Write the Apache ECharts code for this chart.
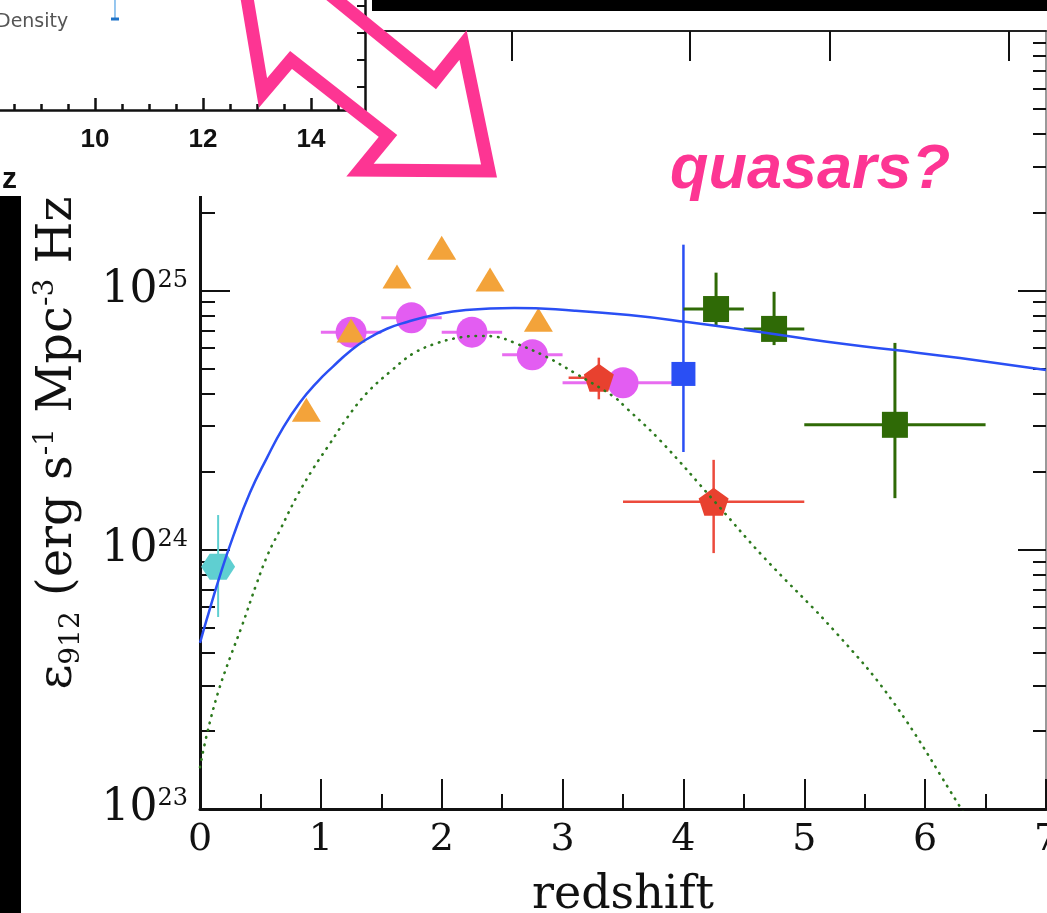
<!DOCTYPE html>
<html>
<head>
<meta charset="utf-8">
<script src="https://cdn.jsdelivr.net/npm/echarts@6/dist/echarts.min.js"></script>
<style>
  html, body { margin: 0; padding: 0; background: #ffffff; }
  #chart { width: 1047px; height: 913px; }
</style>
</head>
<body>
<div id="chart"></div>
<script>
// ---- axis ticks and labels ----
const xTickLabels = ['0', '1', '2', '3', '4', '5', '6', '7'];
const yDecades = [1e23, 1e24, 1e25, 1e26];
const yLabelDecades = [1e23, 1e24, 1e25];
const yMinorTicks = [
  2e23, 3e23, 4e23, 5e23, 6e23, 7e23, 8e23, 9e23,
  2e24, 3e24, 4e24, 5e24, 6e24, 7e24, 8e24, 9e24,
  2e25, 3e25, 4e25, 5e25, 6e25, 7e25, 8e25, 9e25
];
const topTicks = [2.58, 4.05, 5.21, 6.69];

// ---- emissivity at 912 A: measurements ----
// orange triangles
const triZ   = [0.88, 1.25, 1.63, 2.0, 2.4, 2.8];
const triEps = [3.46e24, 7.0e24, 1.13e25, 1.46e25, 1.10e25, 7.7e24];

// magenta circles (redshift bins)
const circZ   = [1.25, 1.75, 2.25, 2.75, 3.5];
const circZlo = [1.0, 1.5, 2.0, 2.5, 3.0];
const circZhi = [1.5, 2.0, 2.5, 3.0, 4.0];
const circEps = [6.9e24, 7.84e24, 6.9e24, 5.64e24, 4.4e24];

// red pentagons
const redZ     = [3.3, 4.25];
const redZlo   = [3.05, 3.5];
const redZhi   = [3.5, 5.0];
const redEps   = [4.6e24, 1.53e24];
const redEpsLo = [3.8e24, 9.7e23];
const redEpsHi = [5.5e24, 2.22e24];

// cyan local point
const cyanZ     = [0.15];
const cyanEps   = [8.6e23];
const cyanEpsLo = [5.5e23];
const cyanEpsHi = [1.36e24];

// blue square
const blueZ     = [4.0];
const blueEps   = [4.76e24];
const blueEpsLo = [2.38e24];
const blueEpsHi = [1.5e25];

// dark green squares
const greenZ     = [4.27, 4.75, 5.75];
const greenZlo   = [4.0, 4.5, 5.0];
const greenZhi   = [4.5, 5.0, 6.5];
const greenEps   = [8.47e24, 7.1e24, 3.03e24];
const greenEpsLo = [7.35e24, 6.15e24, 1.58e24];
const greenEpsHi = [1.17e25, 9.87e24, 6.27e24];

// ---- model curves ----
const totalZ = [0, 0.055, 0.165, 0.273, 0.414, 0.554, 0.687, 0.828, 0.968, 1.1, 1.241,
  1.382, 1.547, 1.713, 1.928, 2.2, 2.6, 3.1, 3.55, 4.03, 4.633, 5.188, 5.734, 6.288, 7.0];
const totalEps = [4.37e23, 5.37e23, 7.94e23, 1.12e24, 1.66e24, 2.26e24, 2.95e24, 3.70e24,
  4.42e24, 5.08e24, 5.82e24, 6.49e24, 7.11e24, 7.55e24, 8.02e24, 8.4e24, 8.55e24, 8.35e24,
  8.03e24, 7.55e24, 6.91e24, 6.33e24, 5.9e24, 5.48e24, 4.93e24];

const qsoZ = [0, 0.058, 0.15, 0.25, 0.345, 0.469, 0.565, 0.662, 0.8, 0.938, 1.076, 1.214,
  1.379, 1.572, 1.765, 1.958, 2.15, 2.32, 2.46, 2.59, 2.87, 3.1, 3.42, 3.53, 3.81, 4.26,
  4.66, 5.26, 5.74, 6.3, 6.5];
const qsoEps = [1.45e23, 1.95e23, 2.82e23, 3.85e23, 5.05e23, 7.41e23, 9.68e23, 1.19e24,
  1.6e24, 2.06e24, 2.57e24, 3.21e24, 4.01e24, 4.85e24, 5.71e24, 6.25e24, 6.58e24, 6.67e24,
  6.61e24, 6.31e24, 5.53e24, 4.8e24, 3.9e24, 3.51e24, 2.63e24, 1.53e24, 9.4e23, 4.8e23,
  2.57e23, 1.0e23, 7.1e22];

// ---- small panel (upper left) ----
const insetXTicksMajor = [8, 10, 12, 14];
const insetXTicksMinor = [8.5, 9, 9.5, 10.5, 11, 11.5, 12.5, 13, 13.5, 14.5];
const insetXLabels = [10, 12, 14];
const insetYTicks = [0, 1, 2, 3];
const insetPointZ = [10.37];
const insetPointLo = [2.5];
const insetPointHi = [3.6];

const SERIF = '"DejaVu Serif", "Liberation Serif", serif';
const SANS = '"Liberation Sans", Arial, sans-serif';
const PINK = '#fd3593';

// error bar item: [x, y, xlo, xhi, ylo, yhi]
function errItems(z, eps, zlo, zhi, elo, ehi) {
  return z.map((v, i) => [v, eps[i],
    zlo ? zlo[i] : v, zhi ? zhi[i] : v,
    elo ? elo[i] : eps[i], ehi ? ehi[i] : eps[i]]);
}
function errorBars(color, width) {
  return function (params, api) {
    const y = api.value(1), x = api.value(0);
    const a = api.coord([api.value(2), y]);
    const b = api.coord([api.value(3), y]);
    const c = api.coord([x, api.value(4)]);
    const d = api.coord([x, api.value(5)]);
    const st = { stroke: color, lineWidth: width };
    return {
      type: 'group',
      children: [
        { type: 'line', shape: { x1: a[0], y1: a[1], x2: b[0], y2: b[1] }, style: st },
        { type: 'line', shape: { x1: c[0], y1: c[1], x2: d[0], y2: d[1] }, style: st }
      ]
    };
  };
}
function errSeries(name, items, color, width) {
  return {
    name: name, type: 'custom', xAxisIndex: 0, yAxisIndex: 0, z: 3,
    encode: { x: 0, y: 1 }, data: items, renderItem: errorBars(color, width), silent: true
  };
}
function pts(z, eps) { return z.map((v, i) => [v, eps[i]]); }
function marker(name, z, eps, symbol, size, color, zz) {
  return {
    name: name, type: 'scatter', xAxisIndex: 0, yAxisIndex: 0, z: zz,
    symbol: symbol, symbolSize: size, data: pts(z, eps),
    itemStyle: { color: color, opacity: 1 }, silent: true
  };
}

const PENTAGON = 'path://M0,-10 L9.5,-3.1 L5.9,8.1 L-5.9,8.1 L-9.5,-3.1 Z';
const HEXAGON = 'path://M-5,-8.7 L5,-8.7 L10,0 L5,8.7 L-5,8.7 L-10,0 Z';

const logAxisBase = {
  type: 'log', logBase: 10, min: 1e23, max: 1e26, gridIndex: 0,
  splitLine: { show: false }, minorTick: { show: false }
};

const option = {
  backgroundColor: '#ffffff',
  animation: false,
  grid: [
    { left: 200, top: 31, width: 846, height: 778, outerBoundsMode: 'none', containLabel: false },
    { left: -13, top: 0, width: 378, height: 110, outerBoundsMode: 'none', containLabel: false }
  ],
  xAxis: [
    {
      type: 'value', gridIndex: 0, position: 'bottom', min: 0, max: 7, interval: 1,
      axisLine: { onZero: false, lineStyle: { color: '#111', width: 3 } },
      axisTick: { inside: true, length: 30, lineStyle: { color: '#111', width: 2 } },
      minorTick: { show: true, splitNumber: 2, length: 15, lineStyle: { color: '#111', width: 2 } },
      splitLine: { show: false }, minorSplitLine: { show: false },
      axisLabel: {
        margin: 12, color: '#111', fontFamily: SERIF, fontSize: 38,
        formatter: v => xTickLabels[Math.round(v)]
      },
      name: 'redshift', nameLocation: 'middle', nameGap: 64, nameMoveOverlap: false,
      nameTextStyle: { fontFamily: SERIF, fontSize: 46, color: '#111' }
    },
    {
      type: 'value', gridIndex: 0, position: 'top', min: 0, max: 7,
      axisLine: { onZero: false, lineStyle: { color: '#222', width: 2 } },
      axisTick: { inside: true, length: 30, customValues: topTicks, lineStyle: { color: '#111', width: 2 } },
      axisLabel: { show: false }, splitLine: { show: false }
    },
    {
      type: 'value', gridIndex: 1, position: 'bottom', min: 8, max: 15, z: 20,
      axisLine: { onZero: false, lineStyle: { color: '#111', width: 2.5 } },
      axisTick: { inside: true, length: 12, customValues: insetXTicksMajor, lineStyle: { color: '#111', width: 2.5 } },
      axisLabel: {
        customValues: insetXLabels, margin: 17, color: '#111',
        fontFamily: SANS, fontWeight: 'bold', fontSize: 26
      },
      splitLine: { show: false }
    },
    {
      type: 'value', gridIndex: 1, position: 'bottom', min: 8, max: 15, z: 20,
      axisLine: { show: false, onZero: false },
      axisTick: { inside: true, length: 6, customValues: insetXTicksMinor, lineStyle: { color: '#111', width: 2.5 } },
      axisLabel: { show: false }, splitLine: { show: false }
    }
  ],
  yAxis: [
    Object.assign({}, logAxisBase, {
      position: 'left',
      axisLine: { onZero: false, lineStyle: { color: '#111', width: 3 } },
      axisTick: { inside: true, length: 30, customValues: yDecades, lineStyle: { color: '#111', width: 2 } },
      axisLabel: {
        customValues: yLabelDecades, margin: 12,
        formatter: v => '{b|10}{s|' + Math.round(Math.log10(v)) + '}',
        rich: {
          b: { fontFamily: SERIF, fontSize: 44, color: '#111', lineHeight: 44 },
          s: { fontFamily: SERIF, fontSize: 24, color: '#111', lineHeight: 26, verticalAlign: 'top' }
        }
      },
      name: '{t|\u03b5}{sub|912}{t| (erg s}{sup|-1}{t| Mpc}{sup|-3}{t| Hz}{sup|-1}{t|)}',
      nameLocation: 'middle', nameGap: 114, nameRotate: 90, nameMoveOverlap: false,
      nameTextStyle: {
        color: '#111',
        rich: {
          t: { fontFamily: SERIF, fontSize: 48, color: '#111', lineHeight: 54 },
          sub: { fontFamily: SERIF, fontSize: 28, color: '#111', lineHeight: 22, verticalAlign: 'bottom' },
          sup: { fontFamily: SERIF, fontSize: 28, color: '#111', lineHeight: 28, verticalAlign: 'top' }
        }
      }
    }),
    Object.assign({}, logAxisBase, {
      position: 'left',
      axisLine: { show: false, onZero: false },
      axisTick: { inside: true, length: 15, customValues: yMinorTicks, lineStyle: { color: '#111', width: 2 } },
      axisLabel: { show: false }
    }),
    Object.assign({}, logAxisBase, {
      position: 'right',
      axisLine: { onZero: false, lineStyle: { color: '#777', width: 1.5 } },
      axisTick: { inside: true, length: 28, customValues: yDecades, lineStyle: { color: '#111', width: 2 } },
      axisLabel: { show: false }
    }),
    Object.assign({}, logAxisBase, {
      position: 'right',
      axisLine: { show: false, onZero: false },
      axisTick: { inside: true, length: 13, customValues: yMinorTicks, lineStyle: { color: '#111', width: 2 } },
      axisLabel: { show: false }
    }),
    {
      type: 'value', gridIndex: 1, position: 'right', min: -0.85, max: 3.2, z: 20,
      axisLine: { onZero: false, lineStyle: { color: '#111', width: 2.5 } },
      axisTick: { inside: true, length: 8, customValues: insetYTicks, lineStyle: { color: '#111', width: 2 } },
      axisLabel: { show: false }, splitLine: { show: false }
    }
  ],
  series: [
    errSeries('bins err', errItems(circZ, circEps, circZlo, circZhi, null, null), '#e86cf0', 3),
    marker('bins', circZ, circEps, 'circle', 31, '#e35df2', 3),
    marker('triangles', triZ, triEps, 'triangle', [29, 24], '#f3a33a', 3),
    errSeries('red err', errItems(redZ, redEps, redZlo, redZhi, redEpsLo, redEpsHi), '#ec4a3c', 2.5),
    marker('red', redZ, redEps, PENTAGON, [30, 28], '#e8412f', 3),
    errSeries('cyan err', errItems(cyanZ, cyanEps, null, null, cyanEpsLo, cyanEpsHi), '#5fcfd1', 2),
    marker('cyan', cyanZ, cyanEps, HEXAGON, [34, 26], '#5fcfd1', 3),
    errSeries('blue err', errItems(blueZ, blueEps, null, null, blueEpsLo, blueEpsHi), '#2a4ff4', 2.5),
    marker('blue', blueZ, blueEps, 'rect', 24, '#2a4ff4', 3),
    errSeries('green err', errItems(greenZ, greenEps, greenZlo, greenZhi, greenEpsLo, greenEpsHi), '#2f6a06', 3),
    marker('green', greenZ, greenEps, 'rect', 26, '#2f6a06', 3),
    {
      name: 'total', type: 'line', xAxisIndex: 0, yAxisIndex: 0, z: 5,
      data: pts(totalZ, totalEps), smooth: 0.5, showSymbol: false, silent: true,
      lineStyle: { color: '#2a4ff4', width: 2.5 }
    },
    {
      name: 'quasars', type: 'line', xAxisIndex: 0, yAxisIndex: 0, z: 5,
      data: pts(qsoZ, qsoEps), smooth: 0.4, showSymbol: false, silent: true, clip: true,
      lineStyle: { color: '#2d7a1e', width: 2.6, type: [0.5, 7], cap: 'round' }
    },
    {
      name: 'density', type: 'custom', xAxisIndex: 2, yAxisIndex: 4, z: 25, silent: true,
      encode: { x: 0, y: 1 },
      data: insetPointZ.map((z, i) => [z, insetPointLo[i], insetPointHi[i]]),
      renderItem: function (params, api) {
        const lo = api.coord([api.value(0), api.value(1)]);
        const hi = api.coord([api.value(0), api.value(2)]);
        return {
          type: 'group',
          children: [
            { type: 'line', shape: { x1: lo[0], y1: lo[1], x2: hi[0], y2: hi[1] },
              style: { stroke: '#74b4ea', lineWidth: 1.5 } },
            { type: 'rect', shape: { x: lo[0] - 4, y: lo[1] - 1.5, width: 8, height: 3 },
              style: { fill: '#1f73c8' } }
          ]
        };
      }
    }
  ],
  graphic: {
    elements: [
      { type: 'rect', z: 10, silent: true, shape: { x: 0, y: 0, width: 370, height: 196 }, style: { fill: '#ffffff' } },
      { type: 'rect', z: 30, silent: true, shape: { x: 372, y: 0, width: 690, height: 11 }, style: { fill: '#000000' } },
      { type: 'rect', z: 30, silent: true, shape: { x: 0, y: 196, width: 21, height: 730 }, style: { fill: '#000000' } },
      { type: 'text', z: 25, silent: true, x: -4, y: 22,
        style: { text: 'Density', fontSize: 19, fontFamily: '"DejaVu Sans"', fill: '#555555',
                 textAlign: 'left', textVerticalAlign: 'middle', align: 'left', verticalAlign: 'middle' } },
      { type: 'text', z: 25, silent: true, x: 2, y: 180,
        style: { text: 'z', fontSize: 30, fontWeight: 'bold', fontFamily: '"Liberation Sans"', fill: '#111111',
                 textAlign: 'left', textVerticalAlign: 'middle', align: 'left', verticalAlign: 'middle' } },
      { type: 'polyline', z: 40, silent: true,
        shape: { points: [[244, -20], [263, 93], [291, 60], [388, 136], [360, 170], [489, 171], [463, 45], [435, 80], [312, -20]] },
        style: { stroke: PINK, lineWidth: 13, fill: null, lineJoin: 'miter', miterLimit: 10 } },
      { type: 'text', z: 40, silent: true, x: 670, y: 171,
        style: { text: 'quasars?', fontSize: 63, fontStyle: 'italic', fontWeight: 'bold',
                 fontFamily: '"Liberation Sans"', fill: PINK,
                 textAlign: 'left', textVerticalAlign: 'middle', align: 'left', verticalAlign: 'middle' } }
    ]
  }
};

const chart = echarts.init(document.getElementById('chart'), null, { renderer: 'canvas' });
chart.setOption(option);
</script>
</body>
</html>
